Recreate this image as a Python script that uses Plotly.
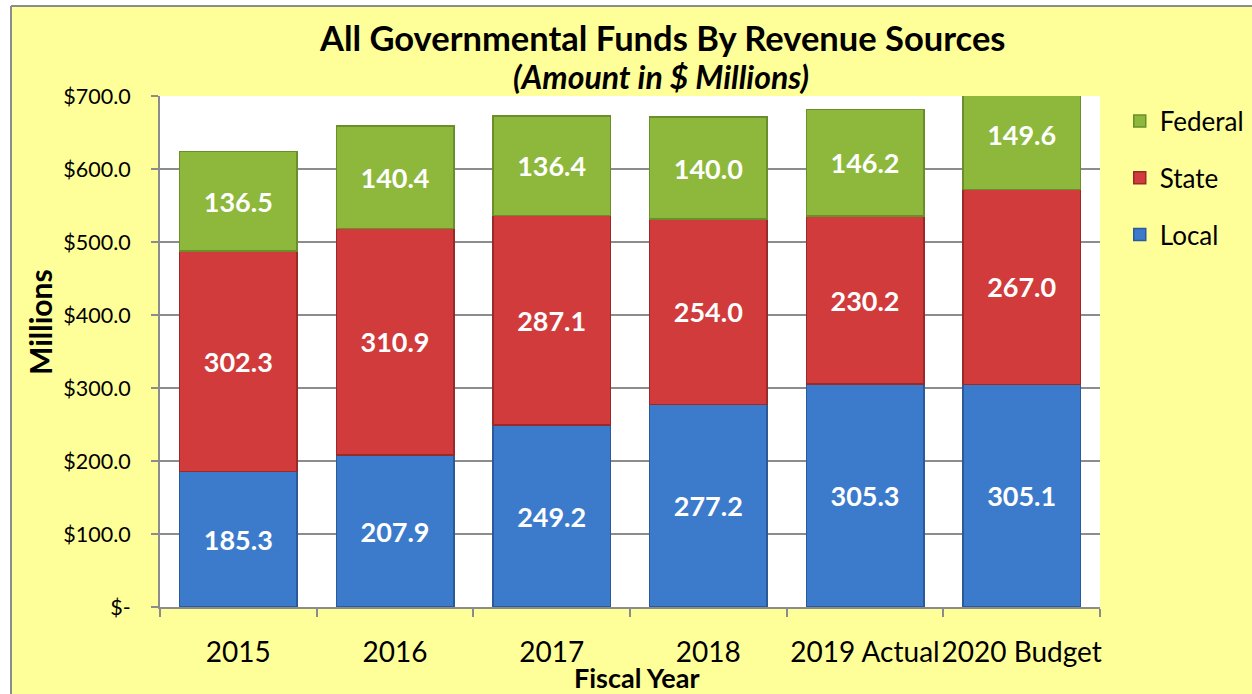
import plotly.graph_objects as go

years = ["2015", "2016", "2017", "2018", "2019 Actual", "2020 Budget"]
local = [185.3, 207.9, 249.2, 277.2, 305.3, 305.1]
state = [302.3, 310.9, 287.1, 254.0, 230.2, 267.0]
federal = [136.5, 140.4, 136.4, 140.0, 146.2, 149.6]
y_ticks = [0, 100, 200, 300, 400, 500, 600, 700]
y_tick_labels = ["$-", "$100.0", "$200.0", "$300.0", "$400.0", "$500.0", "$600.0", "$700.0"]

FONT = "Lato"
L, R, T, B = 160, 152, 96, 87
W, H = 1252, 694
PW, PH = W - L - R, H - T - B


def px_x(p):
    return (p - L) / PW


def px_y(p):
    return (H - B - p) / PH


fig = go.Figure()
series = [
    ("Local", local, "#3C7BCB", "#2A5A9A", 3),
    ("State", state, "#D13B3B", "#9A2A2A", 2),
    ("Federal", federal, "#8DB83C", "#6A8E2A", 1),
]
for name, vals, col, edge, rank in series:
    fig.add_trace(go.Bar(
        name=name, x=years, y=vals, legendgroup=name, legendrank=rank,
        marker=dict(color=col, line=dict(color=edge, width=1.5)),
        text=[f"{v:.1f}" for v in vals],
        textposition="inside", insidetextanchor="middle", textangle=0,
        textfont=dict(family=FONT, size=27, color="white", weight="bold"),
        cliponaxis=True,
    ))

anno_common = dict(xref="paper", yref="paper", showarrow=False, xanchor="center", yanchor="middle")

fig.update_layout(
    width=W, height=H,
    margin=dict(l=L, r=R, t=T, b=B, autoexpand=False),
    barmode="stack", bargap=0.25,
    paper_bgcolor="#FFFF99", plot_bgcolor="white",
    font=dict(family=FONT, color="black"),
    showlegend=True,
    legend=dict(x=1.021, xanchor="left", y=0.997, yanchor="top",
                traceorder="grouped", tracegroupgap=20,
                font=dict(family=FONT, size=26, color="black"),
                bgcolor="rgba(0,0,0,0)", itemclick=False, itemwidth=30),
    xaxis=dict(type="category", showline=True, linecolor="#8C8C8C", linewidth=2,
               ticks="outside", tickson="boundaries", ticklen=8, tickcolor="#8C8C8C",
               tickwidth=2, tickfont=dict(family=FONT, size=28), showgrid=False,
               tickangle=0, ticklabelstandoff=19),
    yaxis=dict(range=[0, 700], tickvals=y_ticks, ticktext=y_tick_labels,
               showline=True, linecolor="#8C8C8C", linewidth=2, ticks="outside",
               ticklen=7, tickcolor="#8C8C8C", tickwidth=2,
               showgrid=True, gridcolor="#8C8C8C", gridwidth=1.5,
               tickfont=dict(family=FONT, size=21.5), zeroline=False,
               ticklabelstandoff=16),
    annotations=[
        dict(text="<b>All Governmental Funds By Revenue Sources</b>", x=px_x(662), y=px_y(38),
             font=dict(family=FONT, size=34.5), **anno_common),
        dict(text="<b><i>(Amount in $ Millions)</i></b>", x=px_x(661), y=px_y(77),
             font=dict(family=FONT, size=32), **anno_common),
        dict(text="<b>Millions</b>", x=px_x(40), y=px_y(322), textangle=-90,
             font=dict(family=FONT, size=30), **anno_common),
        dict(text="<b>Fiscal Year</b>", x=px_x(637), y=px_y(677),
             font=dict(family=FONT, size=27), **anno_common),
    ],
    shapes=[
        dict(type="rect", xref="paper", yref="paper", x0=px_x(-5), x1=px_x(11),
             y0=px_y(700), y1=px_y(-5), fillcolor="white", line=dict(width=0), layer="above"),
        dict(type="rect", xref="paper", yref="paper", x0=px_x(-5), x1=px_x(1260),
             y0=px_y(6), y1=px_y(-5), fillcolor="white", line=dict(width=0), layer="above"),
        dict(type="line", xref="paper", yref="paper", x0=px_x(11), x1=px_x(11),
             y0=px_y(700), y1=px_y(6), line=dict(color="#8C8C8C", width=2), layer="above"),
        dict(type="line", xref="paper", yref="paper", x0=px_x(11), x1=px_x(1260),
             y0=px_y(6), y1=px_y(6), line=dict(color="#8C8C8C", width=2), layer="above"),
    ],
)

fig.write_html("out.html", config={"displayModeBar": False},
               post_script="document.body.style.margin='0px';")
